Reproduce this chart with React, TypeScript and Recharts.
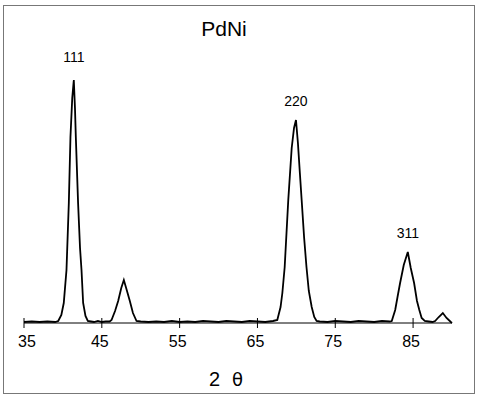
import { LineChart, Line, XAxis, YAxis, ReferenceDot } from "recharts";

// 2θ (deg) and intensity (arbitrary units)
const twoTheta = [
  35, 36, 37, 38, 39, 39.4,
  39.8, 40.11, 40.46, 40.76, 40.97, 41.2, 41.4, 41.55, 41.66, 41.95, 42.2, 42.39, 42.6, 42.9, 43.2,
  43.6, 44, 44.5, 45, 45.5, 46, 46.25,
  46.7, 47.1, 47.5, 47.83, 48.2, 48.6, 49, 49.46,
  50, 51, 52, 53, 54, 55, 56, 57, 58, 59, 60, 61, 62, 63, 64, 65, 66, 67, 67.55,
  67.97, 68.2, 68.5, 68.96, 69.4, 69.7, 69.95, 70.2, 70.45, 70.68, 71, 71.3, 71.6, 71.97, 72.3, 72.6,
  73, 74, 75, 76, 77, 78, 79, 80, 81, 82, 82.26,
  82.7, 83, 83.33, 83.8, 84.32, 84.7, 85.13, 85.5, 85.8, 86.1, 86.5,
  87, 87.5, 87.83, 88.3, 88.82, 89.3, 89.85, 90,
];

const intensity = [
  1, 1.5, 1, 1.5, 1, 2,
  8, 20, 53, 120, 186, 225, 243, 215, 186, 120, 75, 53, 20, 7, 2,
  1.5, 1, 2, 1, 1.5, 1.5, 3,
  12, 22, 35, 43, 33, 22, 10, 2,
  1.5, 1, 1.5, 1, 2, 1, 1.5, 1, 2, 1.5, 1, 2, 1.5, 1, 2, 1.5, 1, 2, 3,
  16, 30, 56, 123, 175, 195, 203, 180, 150, 123, 85, 56, 32, 16, 6, 2,
  1.5, 1, 2, 1.5, 1, 2, 1.5, 1, 2, 1.5, 2,
  13, 26, 40, 58, 71, 55, 40, 22, 13, 5, 2,
  1.5, 1, 2, 6, 10, 5, 1, 0,
];

const xTicks = [35, 45, 55, 65, 75, 85];

const peakNames = ["111", "220", "311"];
const peakPos = [41.4, 69.95, 84.32];
const peakHeight = [243, 203, 71];

const data = twoTheta.map((t, i) => ({ t, v: intensity[i] }));

const font = '"Liberation Sans", Arial, sans-serif';

function AxisTick({ x, y, payload }: any) {
  return (
    <g>
      <line x1={x} y1={y - 5} x2={x} y2={y + 5} stroke="#000" strokeWidth={1} />
      <text
        x={payload.value === 35 ? x + 3 : x - 2}
        y={y + 24}
        textAnchor="middle"
        fontSize={16}
        fontFamily={'"Liberation Sans Narrow", ' + font}
        fill="#000"
      >
        {payload.value}
      </text>
    </g>
  );
}

export default function App() {
  return (
    <div style={{ position: "absolute", left: 0, top: 0, width: 481, height: 400, background: "#fff" }}>
      <div
        style={{
          position: "absolute",
          left: 3,
          top: 5,
          width: 470,
          height: 387,
          border: "1px solid #777",
        }}
      />
      <div
        style={{
          position: "absolute",
          left: 0,
          top: 17,
          width: 448,
          textAlign: "center",
          fontFamily: font,
          fontSize: 21,
        }}
      >
        PdNi
      </div>
      <div
        style={{
          position: "absolute",
          left: 0,
          top: 368,
          width: 452,
          textAlign: "center",
          fontFamily: font,
          fontSize: 20,
          color: "#000",
        }}
      >
        2<span style={{ marginLeft: 12, fontFamily: '"DejaVu Sans", sans-serif', fontSize: 18 }}>θ</span>
      </div>
      <LineChart
        width={481}
        height={400}
        data={data}
        margin={{ top: 73, right: 29, bottom: 37, left: 24 }}
        style={{ position: "absolute", left: 0, top: 0 }}
      >
        <XAxis
          dataKey="t"
          type="number"
          domain={[35, 90]}
          ticks={xTicks}
          height={40}
          tickSize={0}
          tickMargin={0}
          tickLine={false}
          axisLine={{ stroke: "#000", strokeWidth: 1 }}
          tick={<AxisTick />}
        />
        <YAxis hide domain={[0, 250]} />
        <Line
          type="linear"
          dataKey="v"
          stroke="#000"
          strokeWidth={1.8}
          dot={false}
          isAnimationActive={false}
        />
        {peakNames.map((name, i) => (
          <ReferenceDot
            key={name}
            x={peakPos[i]}
            y={peakHeight[i]}
            r={0}
            stroke="none"
            label={{
              value: name,
              position: "top",
              offset: i === 0 ? 18 : 14,
              fontSize: 14,
              fontFamily: font,
              fill: "#000",
            }}
          />
        ))}
      </LineChart>
    </div>
  );
}
